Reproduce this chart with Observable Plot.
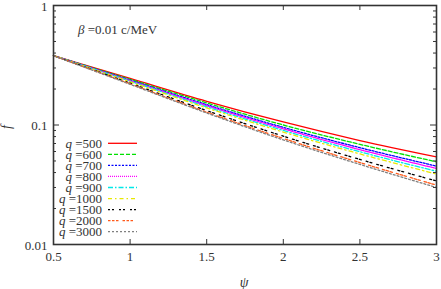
<!DOCTYPE html>
<html><head><meta charset="utf-8">
<script src="https://cdn.jsdelivr.net/npm/d3@7"></script>
<script src="https://cdn.jsdelivr.net/npm/@observablehq/plot@0.6"></script>
<style>body{margin:0;background:#fff} svg text{font-family:"Liberation Serif";}</style>
</head><body><div id="chart"></div>
<script>
const psi = [0.5, 1, 1.5, 2, 2.5, 3];
const qLabels = ["500","600","700","800","900","1000","1500","2000","3000"];
const f500  = [0.380, 0.245, 0.158, 0.106, 0.0741, 0.0541];
const f600  = [0.380, 0.241, 0.153, 0.100, 0.0689, 0.0492];
const f700  = [0.380, 0.237, 0.148, 0.0955, 0.0646, 0.0453];
const f800  = [0.380, 0.235, 0.145, 0.0929, 0.0622, 0.0433];
const f900  = [0.380, 0.2325, 0.142, 0.0900, 0.0597, 0.0410];
const f1000 = [0.380, 0.230, 0.139, 0.0873, 0.0573, 0.0389];
const f1500 = [0.380, 0.224, 0.132, 0.0806, 0.0515, 0.0340];
const f2000 = [0.380, 0.221, 0.128, 0.0771, 0.0485, 0.0314];
const f3000 = [0.380, 0.219, 0.126, 0.0750, 0.0468, 0.0300];
const seriesValues = [f500,f600,f700,f800,f900,f1000,f1500,f2000,f3000];
const colors = ["#ff0000","#00e000","#0000ff","#ff00ff","#00e8e8","#e8e800","#000000","#ff5a1a","#808080"];
const dashes = [null,"4,2","2,1.5","1,1","5,2,1.5,2","4,3,1.5,3","2,2,2,5","2.5,1.5,2.5,1.5,2.5,4","2,2"];
const xTicks = [0.5, 1, 1.5, 2, 2.5, 3];
const xTickLabels = ["0.5","1","1.5","2","2.5","3"];
const yMajor = [0.01, 0.1, 1];
const yTickLabels = ["0.01","0.1","1"];
const yMinor = [0.02,0.03,0.04,0.05,0.06,0.07,0.08,0.09,0.2,0.3,0.4,0.5,0.6,0.7,0.8,0.9];

const rows = [];
seriesValues.forEach((vals, s) => vals.forEach((v, i) => rows.push({q: qLabels[s], psi: psi[i], f: v, s})));

const W = 441, H = 289, mL = 53, mR = 5, mT = 5, mB = 45;
const pw = W - mL - mR, ph = H - mT - mB;
const font = "Liberation Serif";
const ink = "#333";

const marks = [];
seriesValues.forEach((vals, s) => {
  marks.push(Plot.line(rows.filter(r => r.s === s), {x: "psi", y: "f", stroke: colors[s], strokeWidth: 1.3,
    strokeDasharray: dashes[s] || undefined, curve: "monotone-x"}));
});
// inward ticks
marks.push(Plot.tickY(yMajor, {y: d => d, insetRight: pw - 6, stroke: ink}));
marks.push(Plot.tickY(yMajor, {y: d => d, insetLeft: pw - 6, stroke: ink}));
marks.push(Plot.tickY(yMinor, {y: d => d, insetRight: pw - 3, stroke: ink}));
marks.push(Plot.tickY(yMinor, {y: d => d, insetLeft: pw - 3, stroke: ink}));
marks.push(Plot.tickX(xTicks, {x: d => d, insetTop: ph - 5, stroke: ink}));
marks.push(Plot.tickX(xTicks, {x: d => d, insetBottom: ph - 5, stroke: ink}));
marks.push(Plot.axisX({ticks: xTicks, tickSize: 0, tickPadding: 7, tickFormat: (d) => xTickLabels[xTicks.indexOf(d)], label: null, fontSize: 13, fill: ink}));
marks.push(Plot.axisY({ticks: yMajor, tickSize: 0, tickPadding: 6, dy: 1, tickFormat: (d) => yTickLabels[yMajor.indexOf(d)], label: null, fontSize: 13, fill: ink}));
marks.push(Plot.frame({stroke: ink, strokeWidth: 1.6}));

const plot = Plot.plot({
  width: W, height: H, marginLeft: mL, marginRight: mR, marginTop: mT, marginBottom: mB,
  style: {fontFamily: font, fontSize: "13px", color: ink, background: "#fff"},
  x: {domain: [0.5, 3]},
  y: {type: "log", domain: [0.01, 1]},
  marks
});
document.getElementById("chart").appendChild(plot);

const svg = d3.select(plot);
// axis labels
svg.append("text").attr("x", 244).attr("y", 287).attr("text-anchor", "middle")
  .attr("font-size", 14).attr("font-style", "italic").attr("fill", ink).text("ψ");
svg.append("text").attr("transform", "translate(11,127) rotate(-90)").attr("text-anchor", "middle")
  .attr("font-size", 14).attr("font-style", "italic").attr("fill", ink).text("f");
// annotation
const t = svg.append("text").attr("x", 78).attr("y", 34).attr("text-anchor", "start")
  .attr("font-size", 13).attr("fill", ink);
t.append("tspan").attr("font-style", "italic").text("β");
t.append("tspan").text(" =0.01 c/MeV");
// legend
qLabels.forEach((q, i) => {
  const y = 143.3 + i * 11.05;
  const tx = svg.append("text").attr("x", 102).attr("y", y + 4.5).attr("text-anchor", "end")
    .attr("font-size", 13).attr("fill", ink);
  tx.append("tspan").attr("font-style", "italic").text("q");
  tx.append("tspan").text(" =" + q);
  const ln = svg.append("line").attr("x1", 108).attr("x2", 137).attr("y1", y).attr("y2", y)
    .attr("stroke", colors[i]).attr("stroke-width", 1.3);
  if (dashes[i]) ln.attr("stroke-dasharray", dashes[i]);
});
</script></body></html>
